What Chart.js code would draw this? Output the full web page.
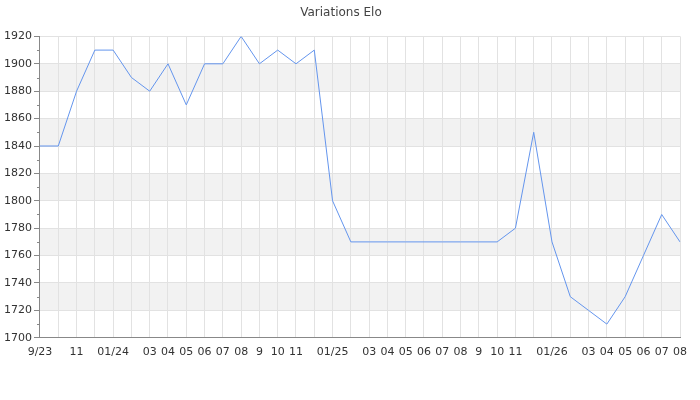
<!DOCTYPE html>
<html>
<head>
<meta charset="utf-8">
<script src="https://cdn.jsdelivr.net/npm/chart.js@4"></script>
<style>
html,body{margin:0;padding:0;background:#fff;}
#wrap{width:700px;height:400px;}
</style>
</head>
<body>
<div id="wrap"><canvas id="c"></canvas></div>
<script>
const months = ['2023-09','2023-10','2023-11','2023-12','2024-01','2024-02','2024-03','2024-04','2024-05','2024-06','2024-07','2024-08','2024-09','2024-10','2024-11','2024-12','2025-01','2025-02','2025-03','2025-04','2025-05','2025-06','2025-07','2025-08','2025-09','2025-10','2025-11','2025-12','2026-01','2026-02','2026-03','2026-04','2026-05','2026-06','2026-07','2026-08'];
const tickLabels = ['9/23','','11','','01/24','','03','04','05','06','07','08','9','10','11','','01/25','','03','04','05','06','07','08','9','10','11','','01/26','','03','04','05','06','07','08'];
const elo = [1840,1840,1880,1910,1910,1890,1880,1900,1870,1900,1900,1920,1900,1910,1900,1910,1800,1770,1770,1770,1770,1770,1770,1770,1770,1770,1780,1850,1770,1730,1720,1710,1730,1760,1790,1770];
const yMin = 1700, yMax = 1920, yStep = 20;
const bandStarts = [1720,1760,1800,1840,1880];

const bandsPlugin = {
  id: 'bands',
  beforeDraw(chart) {
    const {ctx, chartArea, scales} = chart;
    const y = scales.y;
    ctx.save();
    ctx.fillStyle = '#f2f2f2';
    bandStarts.forEach(b => {
      const top = y.getPixelForValue(b + yStep);
      const bot = y.getPixelForValue(b);
      ctx.fillRect(chartArea.left, top, chartArea.right - chartArea.left, bot - top);
    });
    ctx.restore();
  },
  afterDraw(chart) {
    const {ctx, chartArea, scales} = chart;
    const y = scales.y;
    ctx.save();
    ctx.strokeStyle = '#888';
    ctx.lineWidth = 1;
    for (let v = yMin + yStep/2; v < yMax; v += yStep) {
      const py = Math.round(y.getPixelForValue(v)) + 0.5;
      ctx.beginPath();
      ctx.moveTo(chartArea.left - 3, py);
      ctx.lineTo(chartArea.left, py);
      ctx.stroke();
    }
    ctx.restore();
  }
};

new Chart(document.getElementById('c'), {
  type: 'line',
  data: {
    labels: months,
    datasets: [{
      data: elo,
      borderColor: '#6495ed',
      borderWidth: 1,
      pointRadius: 0,
      tension: 0,
      fill: false
    }]
  },
  options: {
    responsive: true,
    maintainAspectRatio: false,
    animation: false,
    layout: { padding: { left: 2, right: 20, top: 0, bottom: 33 } },
    plugins: {
      legend: { display: false },
      tooltip: { enabled: false },
      title: {
        display: true,
        text: 'Variations Elo',
        color: '#444',
        font: { family: 'DejaVu Sans', size: 12, weight: 'normal' },
        padding: { top: 6, bottom: 16 }
      }
    },
    scales: {
      x: {
        offset: false,
        grid: { color: '#e2e2e2', drawTicks: false },
        border: { color: '#888' },
        ticks: {
          autoSkip: false,
          maxRotation: 0,
          minRotation: 0,
          padding: 8,
          color: '#333',
          font: { family: 'DejaVu Sans', size: 11 },
          callback: (v, i) => tickLabels[i]
        }
      },
      y: {
        min: yMin,
        max: yMax,
        grid: { color: '#e2e2e2', tickColor: '#888', tickLength: 6 },
        border: { color: '#888' },
        ticks: {
          stepSize: yStep,
          padding: 2,
          color: '#333',
          font: { family: 'DejaVu Sans', size: 11 },
          callback: v => String(v)
        }
      }
    }
  },
  plugins: [bandsPlugin]
});
</script>
</body>
</html>
